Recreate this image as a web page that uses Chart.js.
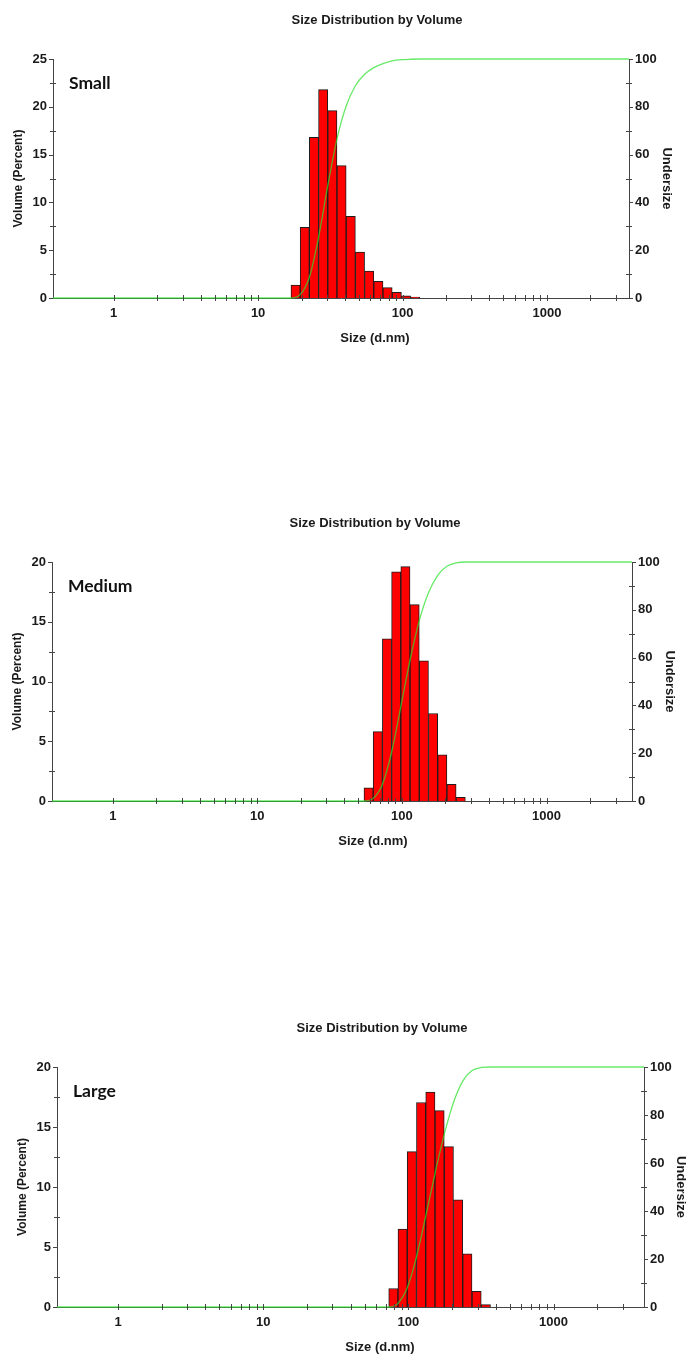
<!DOCTYPE html>
<html lang="en">
<head>
    <meta charset="UTF-8">
    <title>Size Distribution by Volume</title>
    <script src="https://cdn.jsdelivr.net/npm/chart.js"></script>
    <style>
        html, body { margin: 0; padding: 0; background: #fff; overflow: hidden; }
        #page { position: relative; width: 688px; height: 1356px; overflow: hidden; }
        .box { position: absolute; left: 0; width: 688px; height: 350px; }
    </style>
</head>
<body>
    <div id="page">
        <div class="box" style="top: 0px;"><canvas id="small"></canvas></div>
        <div class="box" style="top: 503px;"><canvas id="medium"></canvas></div>
        <div class="box" style="top: 1008px;"><canvas id="large"></canvas></div>
    </div>
    <script>
        // size classes (d.nm) and volume % of each histogram bar
        const smallSizes  = [18.17, 21.04, 24.36, 28.21, 32.67, 37.84, 43.82, 50.75, 58.77, 68.06, 78.82, 91.28, 105.7, 122.4]
        const smallVolume = [1.36, 7.39, 16.8, 21.8, 19.6, 13.84, 8.54, 4.81, 2.82, 1.74, 1.08, 0.59, 0.24, 0.1]

        const mediumSizes  = [58.77, 68.06, 78.82, 91.28, 105.7, 122.4, 141.8, 164.2, 190.1, 220.2, 255.0]
        const mediumVolume = [1.11, 5.81, 13.58, 19.17, 19.61, 16.43, 11.73, 7.32, 3.86, 1.4, 0.31]

        const largeSizes  = [78.82, 91.28, 105.7, 122.4, 141.8, 164.2, 190.1, 220.2, 255.0, 295.3, 342.0]
        const largeVolume = [1.54, 6.49, 12.95, 17.04, 17.91, 16.37, 13.37, 8.94, 4.43, 1.31, 0.2]

        // undersize (cumulative) curve, right axis
        const smallCurveSizes = [0.3, 16.88, 19.55, 22.64, 26.21, 30.36, 35.16, 40.72, 47.16, 54.61, 63.25, 73.24, 84.82, 98.23, 113.8, 131.7, 10000]
        const smallUndersize  = [0, 0, 1.4, 8.7, 25.3, 47, 66.5, 80.3, 88.8, 93.6, 96.4, 98.1, 99.2, 99.7, 99.9, 100, 100]

        const mediumCurveSizes = [0.3, 54.61, 63.25, 73.24, 84.82, 98.23, 113.8, 131.7, 152.6, 176.7, 204.6, 237.0, 274.6, 10000]
        const mediumUndersize  = [0, 0, 1.1, 6.9, 20.4, 39.5, 59, 75.4, 87.1, 94.4, 98.2, 99.6, 100, 100]

        const largeCurveSizes = [0.3, 73.24, 84.82, 98.23, 113.8, 131.7, 152.6, 176.7, 204.6, 237.0, 274.6, 317.8, 368.1, 10000]
        const largeUndersize  = [0, 0, 1.5, 8, 20.9, 37.8, 55.6, 71.9, 85.2, 94.1, 98.5, 99.8, 100, 100]

        // x axis tick marks, labels only on the decades
        const sizeTicks = [1, 2, 3, 4, 5, 6, 7, 8, 9, 10, 20, 30, 40, 50, 60, 70, 80, 90,
                           100, 200, 300, 400, 500, 600, 700, 800, 900, 1000, 2000, 3000]
        const sizeLabels = [1, 10, 100, 1000]

        const fontFamily = "'Liberation Sans', Arial, sans-serif"
        const axisColor = '#444'
        const textColor = '#1a1a1a'

        // tick marks across / outside the axis lines, the titles and the sample name
        const decor = {
            id: 'decor',
            afterDraw(chart, args, opts) {
                const ctx = chart.ctx
                const area = chart.chartArea
                const x = chart.scales.x
                const y = chart.scales.y
                const y2 = chart.scales.y2
                ctx.save()
                ctx.strokeStyle = axisColor
                ctx.lineWidth = 1
                ctx.beginPath()
                x.ticks.forEach(t => {
                    const px = Math.round(x.getPixelForValue(t.value)) + 0.5
                    ctx.moveTo(px, x.top - 3)
                    ctx.lineTo(px, x.top + 3)
                })
                y.ticks.forEach(t => {
                    const py = Math.round(y.getPixelForValue(t.value)) + 0.5
                    if (t.label !== '') { ctx.moveTo(y.right - 4, py); ctx.lineTo(y.right, py) }
                    else { ctx.moveTo(y.right - 3, py); ctx.lineTo(y.right + 3, py) }
                })
                y2.ticks.forEach(t => {
                    const py = Math.round(y2.getPixelForValue(t.value)) + 0.5
                    if (t.label !== '') { ctx.moveTo(y2.left, py); ctx.lineTo(y2.left + 4, py) }
                    else { ctx.moveTo(y2.left - 3, py); ctx.lineTo(y2.left + 3, py) }
                })
                ctx.stroke()

                ctx.fillStyle = textColor
                ctx.textBaseline = 'middle'
                ctx.textAlign = 'center'
                ctx.font = 'bold 13px ' + fontFamily
                ctx.fillText('Size Distribution by Volume', opts.titleX, area.top - 39)
                ctx.fillText('Size (d.nm)', opts.titleX - 2, area.bottom + 40)

                ctx.textAlign = 'left'
                ctx.font = "bold 17.5px Lato, 'Open Sans', sans-serif"
                ctx.fillStyle = '#111'
                ctx.fillText(opts.text, area.left + 16, area.top + 24)
                ctx.restore()
            }
        }

        const makeChart = (c) => {
            const boxHeight = 350
            const plotTop = 59
            return new Chart(document.getElementById(c.id), {
                type: 'bar',
                data: {
                    datasets: [{
                        type: 'line',
                        label: 'Undersize',
                        data: c.curveSizes.map((s, i) => ({x: s, y: c.undersize[i]})),
                        yAxisID: 'y2',
                        borderColor: 'rgba(45, 225, 45, 0.72)',
                        borderWidth: 1.3,
                        pointRadius: 0,
                        cubicInterpolationMode: 'monotone',
                        clip: {left: 0, right: 0, top: 3, bottom: 3},
                        order: 0
                    }, {
                        type: 'bar',
                        label: 'Volume',
                        data: c.sizes.map((s, i) => ({x: s, y: c.volume[i]})),
                        yAxisID: 'y',
                        backgroundColor: '#ff0000',
                        borderColor: '#1c1c1c',
                        borderWidth: 1,
                        barThickness: 'flex',
                        categoryPercentage: 1,
                        barPercentage: 1,
                        order: 1
                    }]
                },
                options: {
                    responsive: true,
                    maintainAspectRatio: false,
                    animation: false,
                    layout: { padding: { top: plotTop, left: 0, right: 0, bottom: 0 } },
                    plugins: {
                        legend: { display: false },
                        tooltip: { enabled: false },
                        title: { display: false },
                        decor: { text: c.name, titleX: c.titleX }
                    },
                    scales: {
                        x: {
                            type: 'logarithmic',
                            min: 0.38,
                            max: c.xMax,
                            offset: false,
                            afterBuildTicks: scale => { scale.ticks = sizeTicks.map(v => ({value: v})) },
                            afterFit: scale => { scale.height = boxHeight - c.plotBottom },
                            grid: { display: false, drawTicks: false },
                            border: { display: true, color: axisColor, width: 1 },
                            ticks: {
                                autoSkip: false,
                                minRotation: 0,
                                maxRotation: 0,
                                padding: 8,
                                color: textColor,
                                font: { family: fontFamily, size: 13, weight: 'bold' },
                                callback: v => sizeLabels.includes(v) ? String(v) : ''
                            }
                        },
                        y: {
                            position: 'left',
                            min: 0,
                            max: c.yMax,
                            afterFit: scale => { scale.width = c.plotLeft },
                            grid: { display: false, drawTicks: false },
                            border: { display: true, color: axisColor, width: 1 },
                            ticks: {
                                stepSize: 2.5,
                                padding: 6,
                                color: textColor,
                                font: { family: fontFamily, size: 13, weight: 'bold' },
                                callback: v => v % 5 === 0 ? String(v) : ''
                            },
                            title: {
                                display: true,
                                text: 'Volume (Percent)',
                                color: textColor,
                                font: { family: fontFamily, size: 12, weight: 'bold' },
                                padding: { top: c.plotLeft - 42, bottom: 0 }
                            }
                        },
                        y2: {
                            position: 'right',
                            min: 0,
                            max: 100,
                            afterFit: scale => { scale.width = 688 - c.plotRight },
                            grid: { display: false, drawTicks: false },
                            border: { display: true, color: axisColor, width: 1 },
                            ticks: {
                                stepSize: 10,
                                padding: 6,
                                color: textColor,
                                font: { family: fontFamily, size: 13, weight: 'bold' },
                                callback: v => v % 20 === 0 ? String(v) : ''
                            },
                            title: {
                                display: true,
                                text: 'Undersize',
                                color: textColor,
                                font: { family: fontFamily, size: 13, weight: 'bold' },
                                padding: { top: Math.max(0, 643 - c.plotRight), bottom: 0 }
                            }
                        }
                    }
                },
                plugins: [decor]
            })
        }

        makeChart({ id: 'small', name: 'Small', sizes: smallSizes, volume: smallVolume,
                    curveSizes: smallCurveSizes, undersize: smallUndersize,
                    yMax: 25, xMax: 3700, plotLeft: 53, plotRight: 629, plotBottom: 298, titleX: 377 })
        makeChart({ id: 'medium', name: 'Medium', sizes: mediumSizes, volume: mediumVolume,
                    curveSizes: mediumCurveSizes, undersize: mediumUndersize,
                    yMax: 20, xMax: 3900, plotLeft: 52, plotRight: 632, plotBottom: 298, titleX: 375 })
        makeChart({ id: 'large', name: 'Large', sizes: largeSizes, volume: largeVolume,
                    curveSizes: largeCurveSizes, undersize: largeUndersize,
                    yMax: 20, xMax: 4200, plotLeft: 57, plotRight: 644, plotBottom: 299, titleX: 382 })
    </script>
</body>
</html>
